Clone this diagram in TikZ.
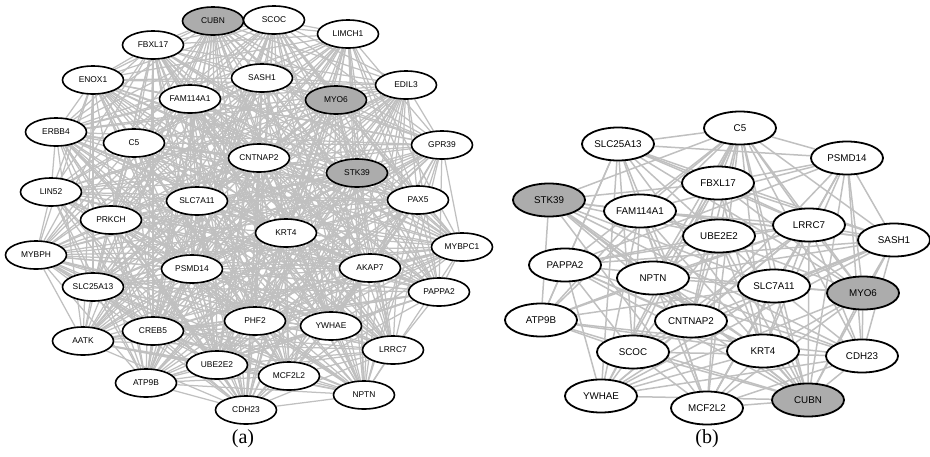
\documentclass[tikz,border=0pt]{standalone}
\usepackage{fontspec}
\setmainfont{Liberation Serif}
\setsansfont{Liberation Sans}
\usetikzlibrary{shapes.geometric,backgrounds}
\definecolor{edgec}{RGB}{192,192,192}
\definecolor{hubc}{RGB}{172,172,172}
\begin{document}
\begin{tikzpicture}[x=1pt,y=-1pt,
  anode/.style={ellipse,draw=black,line width=1.6pt,fill=white,minimum width=61pt,minimum height=28pt,inner sep=0pt,font=\sffamily\fontsize{8.4}{9}\selectfont},
  bnode/.style={ellipse,draw=black,line width=1.8pt,fill=white,minimum width=72pt,minimum height=33pt,inner sep=0pt,font=\sffamily\fontsize{9.8}{11}\selectfont},
  hub/.style={fill=hubc},
  wn/.style={},
  aedge/.style={draw=edgec,line width=1.25pt},
  bedge/.style={draw=edgec,line width=1.5pt},
  capt/.style={font=\rmfamily\fontsize{20}{22}\selectfont}]
\useasboundingbox (0,0) rectangle (930,456);

% panel (a) nodes
\foreach \n/\x/\y/\s in {CUBN/213/21/hub, SCOC/274/20/wn, FBXL17/153/45/wn, LIMCH1/348/34/wn,
  ENOX1/93/80/wn, SASH1/262/78/wn, FAM114A1/190/99/wn, EDIL3/406/85/wn, MYO6/336/100/hub,
  ERBB4/56/132/wn, C5/134/143/wn, GPR39/442/145/wn, CNTNAP2/259/158/wn, STK39/357/173/hub,
  LIN52/51/192/wn, SLC7A11/197/201/wn, PAX5/418/200/wn, PRKCH/111/220/wn, KRT4/286/233/wn,
  MYBPH/36/255/wn, MYBPC1/462/247/wn, PSMD14/192/269/wn, AKAP7/370/268/wn, PAPPA2/439/292/wn,
  SLC25A13/93/287/wn, AATK/83/341/wn, CREB5/153/331/wn, PHF2/255/321/wn, YWHAE/331/326/wn,
  LRRC7/393/350/wn, UBE2E2/217/365/wn, ATP9B/146/383/wn, MCF2L2/289/376/wn, NPTN/364/395/wn,
  CDH23/246/410/wn}
  \node[anode,\s] (a-\n) at (\x,\y) {\n};

% panel (b) nodes
\foreach \n/\x/\y/\s in {C5/740/128/wn, SLC25A13/618/144/wn, PSMD14/847/158/wn, FBXL17/718/183/wn,
  STK39/549/200/hub, FAM114A1/640/211/wn, LRRC7/809/225/wn, UBE2E2/719/236/wn, SASH1/894/240/wn,
  PAPPA2/565/265/wn, NPTN/653/278/wn, SLC7A11/774/286/wn, MYO6/863/293/hub, ATP9B/541/320/wn,
  CNTNAP2/691/321/wn, SCOC/633/352/wn, KRT4/763/351/wn, CDH23/862/356/wn, YWHAE/601/396/wn,
  MCF2L2/707/408/wn, CUBN/808/400/hub}
  \node[bnode,\s] (b-\n) at (\x,\y) {\n};

\begin{pgfonlayer}{background}
\foreach \p [count=\i] in {CUBN,SCOC,FBXL17,LIMCH1,ENOX1,SASH1,FAM114A1,EDIL3,MYO6,ERBB4,C5,GPR39,CNTNAP2,STK39,LIN52,SLC7A11,PAX5,PRKCH,KRT4,MYBPH,MYBPC1,PSMD14,AKAP7,PAPPA2,SLC25A13,AATK,CREB5,PHF2,YWHAE,LRRC7,UBE2E2,ATP9B,MCF2L2,NPTN,CDH23}{
  \foreach \q [count=\j] in {CUBN,SCOC,FBXL17,LIMCH1,ENOX1,SASH1,FAM114A1,EDIL3,MYO6,ERBB4,C5,GPR39,CNTNAP2,STK39,LIN52,SLC7A11,PAX5,PRKCH,KRT4,MYBPH,MYBPC1,PSMD14,AKAP7,PAPPA2,SLC25A13,AATK,CREB5,PHF2,YWHAE,LRRC7,UBE2E2,ATP9B,MCF2L2,NPTN,CDH23}{
    \ifnum\j>\i
      \pgfmathtruncatemacro\h{mod(mod(\i*\j,100)*13+\i*37+\j*91,100)}
      \ifnum\h<88 \draw[aedge] (a-\p) -- (a-\q); \fi
    \fi
  }
}
\foreach \p [count=\i] in {C5,SLC25A13,PSMD14,FBXL17,STK39,FAM114A1,LRRC7,UBE2E2,SASH1,PAPPA2,NPTN,SLC7A11,MYO6,ATP9B,CNTNAP2,SCOC,KRT4,CDH23,YWHAE,MCF2L2,CUBN}{
  \foreach \q [count=\j] in {C5,SLC25A13,PSMD14,FBXL17,STK39,FAM114A1,LRRC7,UBE2E2,SASH1,PAPPA2,NPTN,SLC7A11,MYO6,ATP9B,CNTNAP2,SCOC,KRT4,CDH23,YWHAE,MCF2L2,CUBN}{
    \ifnum\j>\i
      \pgfmathtruncatemacro\h{mod(mod(\i*\j,100)*17+\i*41+\j*83,100)}
      \ifnum\h<66 \draw[bedge] (b-\p) -- (b-\q); \fi
    \fi
  }
}
\end{pgfonlayer}

\node[capt] (capa) at (243,439) {(a)};
\node[capt] (capb) at (707,439) {(b)};
\end{tikzpicture}
\end{document}
